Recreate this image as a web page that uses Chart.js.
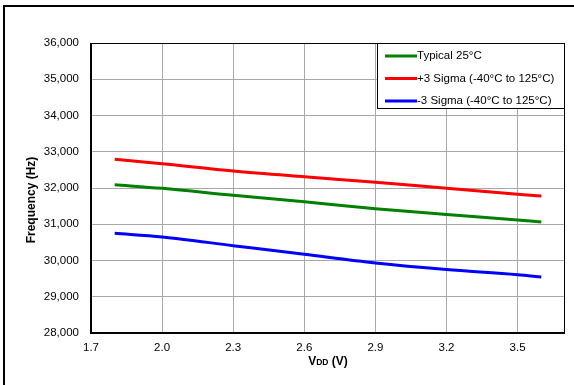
<!DOCTYPE html>
<html>
<head>
<meta charset="utf-8">
<script src="https://cdn.jsdelivr.net/npm/chart.js@4/dist/chart.umd.min.js"></script>
<style>
  body { margin: 0; background: #fff; }
  #wrap { width: 574px; height: 385px; }
</style>
</head>
<body>
<div id="wrap"><canvas id="myChart" width="574" height="385"></canvas></div>
<script>
// Supply voltage samples (V)
var vdd = [1.8, 2.0, 2.3, 2.6, 2.9, 3.2, 3.5, 3.6];

// Frequency readings (Hz)
var typical25 = [32090, 31990, 31800, 31620, 31430, 31270, 31120, 31060];
var plus3Sigma = [32790, 32670, 32470, 32310, 32160, 31990, 31830, 31780];
var minus3Sigma = [30750, 30650, 30410, 30170, 29930, 29750, 29610, 29545];

// Axis ticks
var xTicks = [1.7, 2.0, 2.3, 2.6, 2.9, 3.2, 3.5];
var yTicks = [28000, 29000, 30000, 31000, 32000, 33000, 34000, 35000, 36000];

var seriesNames = ['Typical 25°C', '+3 Sigma (-40°C to 125°C)', '-3 Sigma (-40°C to 125°C)'];

function toPoints(arr) {
  return arr.map(function (v, i) { return { x: vdd[i], y: v }; });
}

var FONT = '"Liberation Sans", Arial, sans-serif';

// Draws frame, legend box and axis titles
var decorations = {
  id: 'decorations',
  afterDraw: function (chart) {
    var c = chart.ctx;
    var a = chart.chartArea;
    c.save();

    // outer frame (only left/top visible)
    c.fillStyle = '#000';
    c.fillRect(3, 5, 2, 385);
    c.fillRect(3, 5, 574, 2);

    // plot frame
    c.strokeStyle = '#000';
    c.lineWidth = 1;
    c.strokeRect(a.left + 0.5, a.top + 0.5, a.right - a.left - 1, a.bottom - a.top - 1);
    c.fillRect(a.left - 1, a.top, 2, a.bottom - a.top + 1);
    c.fillRect(a.left - 1, a.bottom - 1, a.right - a.left + 1, 2);

    // legend
    var lx = 377, ly = 43, lw = a.right - 377, lh = 66;
    c.fillStyle = '#fff';
    c.fillRect(lx, ly, lw, lh);
    c.strokeRect(lx + 0.5, ly + 0.5, lw - 1, lh - 1);
    c.font = '11.5px ' + FONT;
    c.textBaseline = 'middle';
    c.textAlign = 'left';
    chart.data.datasets.forEach(function (ds, i) {
      var yy = 56 + i * 22.5;
      c.strokeStyle = ds.borderColor;
      c.lineWidth = 3;
      c.beginPath();
      c.moveTo(385, yy);
      c.lineTo(417, yy);
      c.stroke();
      c.fillStyle = '#000';
      c.fillText(ds.label, 417, yy);
    });

    // y axis title
    c.fillStyle = '#000';
    c.font = 'bold 12px ' + FONT;
    c.save();
    c.translate(32, 200);
    c.rotate(-Math.PI / 2);
    c.textAlign = 'center';
    c.textBaseline = 'middle';
    c.fillText('Frequency (Hz)', 0, 0);
    c.restore();

    // x axis title: V with small-cap DD
    var big = 'bold 12px ' + FONT;
    var small = 'bold 8.5px ' + FONT;
    c.textBaseline = 'alphabetic';
    c.textAlign = 'left';
    c.font = big; var w1 = c.measureText('V').width; var w3 = c.measureText(' (V)').width;
    c.font = small; var w2 = c.measureText('DD').width;
    var x0 = (a.left + a.right) / 2 - (w1 + w2 + w3) / 2;
    var base = 365;
    c.font = big; c.fillText('V', x0, base);
    c.font = small; c.fillText('DD', x0 + w1, base);
    c.font = big; c.fillText(' (V)', x0 + w1 + w2, base);

    c.restore();
  }
};

var colors = ['#008000', '#ff0000', '#0000ff'];
var values = [typical25, plus3Sigma, minus3Sigma];

var ctx = document.getElementById('myChart').getContext('2d');
var myChart = new Chart(ctx, {
  type: 'line',
  data: {
    datasets: values.map(function (arr, i) {
      return {
        label: seriesNames[i],
        data: toPoints(arr),
        borderColor: colors[i],
        borderWidth: 3,
        pointRadius: 0,
        fill: false,
        cubicInterpolationMode: 'monotone'
      };
    })
  },
  options: {
    responsive: false,
    animation: false,
    layout: { padding: { left: 0, top: 43, right: 9, bottom: 0 } },
    plugins: { legend: { display: false }, tooltip: { enabled: false } },
    scales: {
      x: {
        type: 'linear',
        min: 1.7,
        max: 3.7,
        afterBuildTicks: function (scale) {
          scale.ticks = xTicks.map(function (v) { return { value: v }; });
        },
        afterFit: function (scale) { scale.height = 52; },
        grid: { color: '#a8a8a8', lineWidth: 1, drawTicks: false },
        border: { display: false },
        ticks: {
          padding: 8,
          color: '#000',
          maxRotation: 0,
          font: { family: FONT, size: 11.5 },
          callback: function (v) { return Number(v).toFixed(1); }
        }
      },
      y: {
        min: 28000,
        max: 36000,
        afterBuildTicks: function (scale) {
          scale.ticks = yTicks.map(function (v) { return { value: v }; });
        },
        afterFit: function (scale) { scale.width = 91; },
        grid: { color: '#a8a8a8', lineWidth: 1, drawTicks: false },
        border: { display: false },
        ticks: {
          padding: 12,
          color: '#000',
          font: { family: FONT, size: 11.5 },
          callback: function (v) { return Number(v).toLocaleString('en-US'); }
        }
      }
    }
  },
  plugins: [decorations]
});
</script>
</body>
</html>
